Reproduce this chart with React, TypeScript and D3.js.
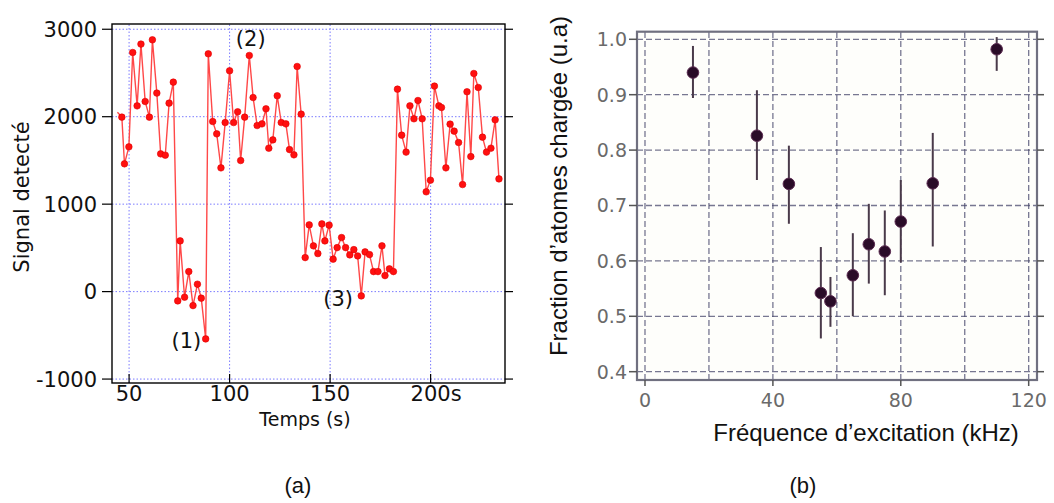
import React from "react";
import * as d3 from "d3";

// ---------- Panel (a): signal vs time ----------
const times = [44.2, 46.4, 47.7, 49.9, 51.8, 54.0, 55.9, 58.0, 60.1, 61.6, 63.8, 65.7, 68.0, 69.9, 72.0, 74.2, 75.4, 77.6, 79.7, 81.8, 84.0, 85.9, 88.1, 89.4, 91.6, 93.6, 95.7, 97.8, 100.0, 102.0, 104.0, 105.5, 107.5, 109.8, 111.7, 113.7, 116.1, 118.1, 119.5, 121.5, 123.7, 125.7, 128.0, 129.8, 132.0, 133.6, 135.6, 137.6, 139.6, 141.7, 143.9, 145.9, 147.4, 149.5, 151.5, 153.5, 155.7, 157.7, 159.8, 161.8, 163.7, 165.5, 167.4, 169.6, 171.6, 173.8, 175.8, 177.3, 179.5, 181.5, 183.5, 185.6, 187.8, 189.7, 191.7, 193.7, 195.8, 197.8, 199.9, 201.9, 204.1, 205.4, 207.6, 209.7, 211.7, 213.9, 215.9, 218.1, 220.0, 221.5, 223.7, 225.8, 227.8, 230.0, 232.1, 234.0];
const signal = [2050, 1995, 1461, 1655, 2734, 2124, 2830, 2174, 1995, 2879, 2270, 1575, 1560, 2155, 2395, -106, 580, -64, 229, -160, 85, -75, -541, 2719, 1945, 1804, 1415, 1933, 2525, 1933, 2056, 1499, 1995, 2700, 2219, 1899, 1918, 2090, 1640, 1735, 2239, 1933, 1918, 1624, 1564, 2574, 2029, 389, 763, 523, 435, 774, 580, 760, 371, 503, 618, 503, 420, 480, 408, -49, 454, 423, 229, 229, 523, 183, 260, 229, 2315, 1789, 1595, 2124, 1976, 2185, 1976, 1141, 1274, 2350, 2124, 2105, 1415, 1915, 1835, 1705, 1224, 2285, 1544, 2494, 2334, 1766, 1595, 1640, 1964, 1289];
const aYTicks = [3000, 2000, 1000, 0, -1000];
const aXTicks = [50, 100, 150, 200];
const aXTickLabels = ["50", "100", "150", "200s"];
const aNotes = [
  { label: "(1)", t: 78.5, v: -560 },
  { label: "(2)", t: 110.5, v: 2890 },
  { label: "(3)", t: 154, v: -75 },
];

// ---------- Panel (b): charged fraction vs frequency ----------
const freq = [15, 35, 45, 55, 58, 65, 70, 75, 80, 90, 110];
const fraction = [0.940, 0.826, 0.739, 0.542, 0.527, 0.574, 0.630, 0.617, 0.671, 0.740, 0.982];
const errLow = [0.894, 0.746, 0.667, 0.460, 0.481, 0.500, 0.559, 0.538, 0.597, 0.626, 0.943];
const errHigh = [0.988, 0.908, 0.808, 0.625, 0.571, 0.650, 0.703, 0.691, 0.746, 0.831, 1.004];
const bYTicks = [0.4, 0.5, 0.6, 0.7, 0.8, 0.9, 1.0];
const bXGrid = [0, 20, 40, 60, 80, 100, 120];
const bXTicks = [0, 40, 80, 120];

export default function App() {
  // scales panel (a)
  const ax = d3.scaleLinear().domain([41.5, 237]).range([112, 505]);
  const ay = d3.scaleLinear().domain([-1045, 3060]).range([383, 24]);
  const line = d3
    .line<number>()
    .x((_, i) => ax(times[i]))
    .y((d) => ay(d));

  // scales panel (b)
  const bx = d3.scaleLinear().domain([-2.5, 122.6]).range([637, 1037]);
  const by = d3.scaleLinear().domain([0.385, 1.0137]).range([380, 31.7]);

  const fA = "'DejaVu Sans', Verdana, sans-serif";
  const fB = "'Liberation Sans', Arial, sans-serif";

  return (
    <svg width={1054} height={503} style={{ position: "absolute", left: 0, top: 0, background: "#fff" }}>
      {/* ===== Panel (a) ===== */}
      <g>
        {aYTicks.map((v) => (
          <line key={"gy" + v} x1={ax.range()[0]} x2={ax.range()[1]} y1={ay(v)} y2={ay(v)} stroke="#7b7bff" strokeWidth={1} strokeDasharray="1.5 2" />
        ))}
        {aXTicks.map((t) => (
          <line key={"gx" + t} x1={ax(t)} x2={ax(t)} y1={ay.range()[0]} y2={ay.range()[1]} stroke="#7b7bff" strokeWidth={1} strokeDasharray="1.5 2" />
        ))}
        <path d={line(signal) || ""} fill="none" stroke="#ff4848" strokeWidth={1.4} />
        {signal.map((v, i) =>
          i === 0 ? null : (
            <circle key={"p" + i} cx={ax(times[i])} cy={ay(v)} r={3.3} fill="#ff1010" stroke="#e00000" strokeWidth={0.6} />
          )
        )}
        {/* frame */}
        <rect x={ax.range()[0]} y={ay.range()[1]} width={ax.range()[1] - ax.range()[0]} height={ay.range()[0] - ay.range()[1]} fill="none" stroke="#000" strokeWidth={1.4} />
        {aYTicks.map((v) => (
          <g key={"ty" + v}>
            <line x1={ax.range()[0] - 10} x2={ax.range()[0]} y1={ay(v)} y2={ay(v)} stroke="#000" strokeWidth={1.2} />
            <line x1={ax.range()[1]} x2={ax.range()[1] + 8} y1={ay(v)} y2={ay(v)} stroke="#000" strokeWidth={1.2} />
            <text x={ax.range()[0] - 15} y={ay(v)} dy="0.36em" textAnchor="end" fontFamily={fA} fontSize={21} fill="#111">{v}</text>
          </g>
        ))}
        {aXTicks.map((t, i) => (
          <g key={"tx" + t}>
            <line x1={ax(t)} x2={ax(t)} y1={ay.range()[0]} y2={ay.range()[0] - 9} stroke="#000" strokeWidth={1.2} />
            <text x={ax(t)} y={401} textAnchor={i === 3 ? "start" : "middle"} dx={i === 3 ? -20 : 0} fontFamily={fA} fontSize={21} fill="#111">{aXTickLabels[i]}</text>
          </g>
        ))}
        {aNotes.map((n) => (
          <text key={n.label} x={ax(n.t)} y={ay(n.v)} dy="0.36em" textAnchor="middle" fontFamily={fA} fontSize={21} fill="#111">{n.label}</text>
        ))}
        <text x={305} y={426} textAnchor="middle" fontFamily={fA} fontSize={19} fill="#111">Temps (s)</text>
        <text transform="translate(29,197) rotate(-90)" textAnchor="middle" fontFamily={fA} fontSize={21} fill="#111">Signal detecté</text>
        <text x={298} y={493} textAnchor="middle" fontFamily={fB} fontSize={22} fill="#111">(a)</text>
      </g>

      {/* ===== Panel (b) ===== */}
      <g>
        <rect x={bx.range()[0]} y={by.range()[1]} width={bx.range()[1] - bx.range()[0]} height={by.range()[0] - by.range()[1]} fill="#fefefb" />
        {bYTicks.map((v) => (
          <line key={"bgy" + v} x1={bx.range()[0]} x2={bx.range()[1]} y1={by(v)} y2={by(v)} stroke="#4a4a6e" strokeWidth={1.3} strokeDasharray="6 3" opacity={0.75} />
        ))}
        {bXGrid.map((f) => (
          <line key={"bgx" + f} x1={bx(f)} x2={bx(f)} y1={by.range()[0]} y2={by.range()[1]} stroke="#4a4a6e" strokeWidth={1.3} strokeDasharray="6 3" opacity={0.75} />
        ))}
        {freq.map((f, i) => (
          <line key={"eb" + i} x1={bx(f)} x2={bx(f)} y1={by(errLow[i])} y2={by(errHigh[i])} stroke="#4a3a4a" strokeWidth={2} />
        ))}
        {freq.map((f, i) => (
          <circle key={"bp" + i} cx={bx(f)} cy={by(fraction[i])} r={5.8} fill="#2a0c28" stroke="#5a2a50" strokeWidth={1} />
        ))}
        <rect x={bx.range()[0]} y={by.range()[1]} width={bx.range()[1] - bx.range()[0]} height={by.range()[0] - by.range()[1]} fill="none" stroke="#707080" strokeWidth={2.2} />
        {bYTicks.map((v) => (
          <g key={"bty" + v}>
            <line x1={bx.range()[0] - 8} x2={bx.range()[0]} y1={by(v)} y2={by(v)} stroke="#555" strokeWidth={1.5} />
            <line x1={bx.range()[1]} x2={bx.range()[1] + 7} y1={by(v)} y2={by(v)} stroke="#555" strokeWidth={1.5} />
            <text x={bx.range()[0] - 10} y={by(v)} dy="0.36em" textAnchor="end" fontFamily={fA} fontSize={19} fill="#6a6a6a">{v.toFixed(1)}</text>
          </g>
        ))}
        {bXTicks.map((f) => (
          <g key={"btx" + f}>
            <line x1={bx(f)} x2={bx(f)} y1={by.range()[0]} y2={by.range()[0] + 6} stroke="#555" strokeWidth={1.5} />
            <text x={bx(f)} y={407} textAnchor="middle" fontFamily={fA} fontSize={19} fill="#6a6a6a">{f}</text>
          </g>
        ))}
        <text x={866} y={441} textAnchor="middle" fontFamily={fB} fontSize={24} fill="#111">Fréquence d’excitation (kHz)</text>
        <text transform="translate(567,186) rotate(-90)" textAnchor="middle" fontFamily={fB} fontSize={24} fill="#111">Fraction d’atomes chargée (u.a)</text>
        <text x={803} y={493} textAnchor="middle" fontFamily={fB} fontSize={22} fill="#111">(b)</text>
      </g>
    </svg>
  );
}
